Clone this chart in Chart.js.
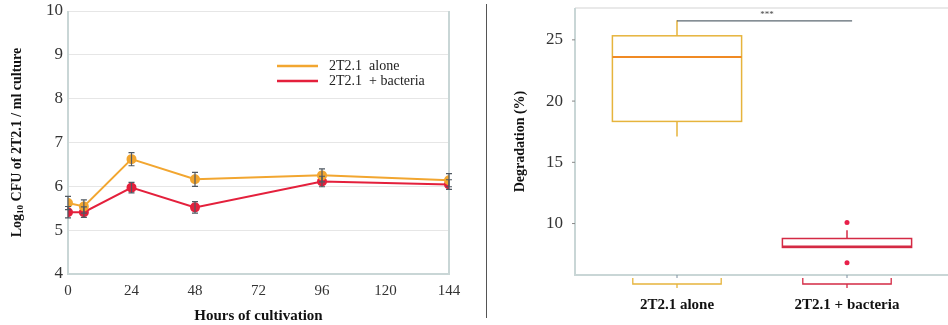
<!DOCTYPE html>
<html>
<head>
<meta charset="utf-8">
<script src="https://cdn.jsdelivr.net/npm/chart.js@4.4.1/dist/chart.umd.min.js"></script>
<style>
  body { margin: 0; background: #fff; width: 948px; height: 325px; overflow: hidden; position: relative; }
  canvas { position: absolute; top: 0; }
  #growth { left: 0; }
  #degr { left: 488px; }
  #divider { position: absolute; left: 486px; top: 4px; width: 1px; height: 314px; background: #555; }
</style>
</head>
<body>
<canvas id="growth" width="486" height="325"></canvas>
<div id="divider"></div>
<canvas id="degr" width="465" height="325"></canvas>
<script>
// ---------- data: growth curve ----------
const hours = [0, 6, 24, 48, 96, 144];
const aloneMean = [5.62, 5.54, 6.62, 6.16, 6.25, 6.14];
const aloneErr = [0.15, 0.15, 0.15, 0.16, 0.15, 0.15];
const bactMean = [5.41, 5.41, 5.97, 5.52, 6.11, 6.04];
const bactErr = [0.13, 0.12, 0.12, 0.13, 0.12, 0.11];
const hourTicks = [0, 24, 48, 72, 96, 120, 144];
const cfuTicks = [4, 5, 6, 7, 8, 9, 10];

// ---------- data: degradation box plot ----------
const groups = ['2T2.1 alone', '2T2.1 + bacteria'];
const boxLow = [17.1, 8.05];
const boxQ1 = [18.34, 8.05];
const boxMedian = [23.6, 8.12];
const boxQ3 = [25.33, 8.78];
const boxHigh = [26.6, 9.45];
const outliers = [[], [10.08, 6.79]];
const degrTicks = [10, 15, 20, 25];
const signifLevel = 26.55;

const orange = '#f2a630';
const red = '#e4203c';
const serif = "'Liberation Serif', 'DejaVu Serif', serif";

// no extra label padding, so the plot area is set by layout.padding only
function noPad(s) {
    s.paddingTop = 0; s.paddingBottom = 0; s.paddingLeft = 0; s.paddingRight = 0;
}

// ================= LEFT CHART =================

function toPoints(ys) {
    return hours.map((h, i) => ({ x: h, y: ys[i] }));
}

const errorBars = {
    id: 'errorBars',
    afterDatasetsDraw(chart) {
        const ctx = chart.ctx;
        const xs = chart.scales.x, ys = chart.scales.y;
        const sets = [[aloneMean, aloneErr], [bactMean, bactErr]];
        ctx.save();
        ctx.strokeStyle = '#4f5862';
        ctx.lineWidth = 1.2;
        sets.forEach(([m, e]) => {
            for (let i = 0; i < hours.length; i++) {
                const x = xs.getPixelForValue(hours[i]);
                const top = ys.getPixelForValue(m[i] + e[i]);
                const bot = ys.getPixelForValue(m[i] - e[i]);
                ctx.beginPath();
                ctx.moveTo(x, top); ctx.lineTo(x, bot);
                ctx.moveTo(x - 3, top); ctx.lineTo(x + 3, top);
                ctx.moveTo(x - 3, bot); ctx.lineTo(x + 3, bot);
                ctx.stroke();
            }
        });
        ctx.restore();
    }
};

const growthDeco = {
    id: 'growthDeco',
    beforeDatasetsDraw(chart) {
        const { ctx, chartArea: a } = chart;
        ctx.save();
        ctx.strokeStyle = '#c9d6d6';
        ctx.lineWidth = 2;
        ctx.beginPath();
        ctx.moveTo(a.left, a.top); ctx.lineTo(a.left, a.bottom);
        ctx.lineTo(a.right, a.bottom); ctx.lineTo(a.right, a.top);
        ctx.stroke();
        ctx.restore();
    },
    afterDraw(chart) {
        const { ctx, chartArea: a } = chart;
        ctx.save();
        // legend
        chart.data.datasets.forEach((ds, i) => {
            const y = 66 + i * 15;
            ctx.strokeStyle = ds.borderColor;
            ctx.lineWidth = 2.5;
            ctx.beginPath(); ctx.moveTo(277, y); ctx.lineTo(318, y); ctx.stroke();
            ctx.fillStyle = '#222';
            ctx.font = '14px ' + serif;
            ctx.textBaseline = 'middle';
            ctx.fillText(ds.label, 329, y);
        });
        // y title with subscript
        ctx.translate(17, (a.top + a.bottom) / 2);
        ctx.rotate(-Math.PI / 2);
        ctx.fillStyle = '#111';
        ctx.textBaseline = 'middle';
        const big = 'bold 14px ' + serif, small = 'bold 9px ' + serif;
        const parts = [['Log', big, 0], ['10', small, 4], [' CFU of 2T2.1 / ml culture', big, 0]];
        let w = 0;
        parts.forEach(p => { ctx.font = p[1]; w += ctx.measureText(p[0]).width; });
        let x = -w / 2;
        parts.forEach(p => {
            ctx.font = p[1];
            ctx.fillText(p[0], x, p[2]);
            x += ctx.measureText(p[0]).width;
        });
        ctx.restore();
    }
};

new Chart(document.getElementById('growth'), {
    type: 'line',
    data: {
        datasets: [
            {
                label: '2T2.1  alone',
                data: toPoints(aloneMean),
                borderColor: orange,
                backgroundColor: orange,
                borderWidth: 2,
                pointRadius: 4,
                tension: 0
            },
            {
                label: '2T2.1  + bacteria',
                data: toPoints(bactMean),
                borderColor: red,
                backgroundColor: red,
                borderWidth: 2,
                pointRadius: 4,
                tension: 0
            }
        ]
    },
    options: {
        responsive: false,
        animation: false,
        layout: { padding: { left: 0, right: 37, top: 11, bottom: 0 } },
        plugins: { legend: { display: false }, tooltip: { enabled: false } },
        scales: {
            x: {
                type: 'linear',
                min: 0,
                max: 144,
                afterBuildTicks: s => { s.ticks = hourTicks.map(v => ({ value: v })); },
                afterFit: s => { s.height = 51; noPad(s); },
                grid: { display: false, drawTicks: false },
                border: { display: false },
                ticks: { font: { family: serif, size: 15 }, color: '#333', padding: 8, maxRotation: 0 },
                title: {
                    display: true,
                    text: 'Hours of cultivation',
                    font: { family: serif, size: 15, weight: 'bold' },
                    color: '#111',
                    padding: { top: 6, bottom: 0 }
                }
            },
            y: {
                min: 4,
                max: 10,
                afterBuildTicks: s => { s.ticks = cfuTicks.map(v => ({ value: v })); },
                afterFit: s => { s.width = 68; noPad(s); },
                grid: { color: '#e6e6e6', drawTicks: false },
                border: { display: false },
                ticks: { font: { family: serif, size: 17 }, color: '#333', padding: 5 }
            }
        }
    },
    plugins: [growthDeco, errorBars]
});

// ================= RIGHT CHART =================

const boxColors = ['#e6b43c', '#d42a44'];
const medianColors = ['#f08a24', '#d42a44'];
const boxWidth = 0.76;
const bracketWidth = 0.52;

const boxPlot = {
    id: 'boxPlot',
    beforeDatasetsDraw(chart) {
        const { ctx, chartArea: a } = chart;
        const xs = chart.scales.x, ys = chart.scales.y;
        ctx.save();
        // frame
        ctx.strokeStyle = '#e2e2e2';
        ctx.lineWidth = 1.5;
        ctx.beginPath(); ctx.moveTo(a.left, a.top); ctx.lineTo(a.right, a.top); ctx.stroke();
        ctx.strokeStyle = '#c9d6d6';
        ctx.lineWidth = 2;
        ctx.beginPath(); ctx.moveTo(a.left, a.top); ctx.lineTo(a.left, a.bottom); ctx.lineTo(a.right, a.bottom); ctx.stroke();
        // y tick marks
        ctx.strokeStyle = '#888';
        ctx.lineWidth = 1;
        degrTicks.forEach(v => {
            const y = ys.getPixelForValue(v);
            ctx.beginPath(); ctx.moveTo(a.left - 3, y); ctx.lineTo(a.left, y); ctx.stroke();
        });
        groups.forEach((g, i) => {
            const xc = xs.getPixelForValue(i + 1);
            const x0 = xs.getPixelForValue(i + 1 - boxWidth / 2);
            const x1 = xs.getPixelForValue(i + 1 + boxWidth / 2);
            const yQ1 = ys.getPixelForValue(boxQ1[i]);
            const yQ3 = ys.getPixelForValue(boxQ3[i]);
            const yMed = ys.getPixelForValue(boxMedian[i]);
            const yLo = ys.getPixelForValue(boxLow[i]);
            const yHi = ys.getPixelForValue(boxHigh[i]);
            ctx.strokeStyle = boxColors[i];
            ctx.lineWidth = 1.5;
            ctx.beginPath();
            ctx.moveTo(xc, yQ3); ctx.lineTo(xc, yHi);
            ctx.moveTo(xc, yQ1); ctx.lineTo(xc, yLo);
            ctx.stroke();
            ctx.strokeRect(x0, yQ3, x1 - x0, yQ1 - yQ3);
            ctx.strokeStyle = medianColors[i];
            ctx.lineWidth = 2.2;
            ctx.beginPath(); ctx.moveTo(x0, yMed); ctx.lineTo(x1, yMed); ctx.stroke();
            // bracket under the axis
            const b0 = xs.getPixelForValue(i + 1 - bracketWidth / 2);
            const b1 = xs.getPixelForValue(i + 1 + bracketWidth / 2);
            const by = a.bottom + 9;
            ctx.strokeStyle = boxColors[i];
            ctx.lineWidth = 1.3;
            ctx.beginPath();
            ctx.moveTo(b0, a.bottom + 3); ctx.lineTo(b0, by); ctx.lineTo(b1, by); ctx.lineTo(b1, a.bottom + 3);
            ctx.moveTo(xc, by); ctx.lineTo(xc, by + 4);
            ctx.stroke();
            // axis tick
            ctx.strokeStyle = '#7d8fa0';
            ctx.lineWidth = 1;
            ctx.beginPath(); ctx.moveTo(xc, a.bottom); ctx.lineTo(xc, a.bottom + 3); ctx.stroke();
        });
        // significance bar
        const sy = ys.getPixelForValue(signifLevel);
        ctx.strokeStyle = '#5d6872';
        ctx.lineWidth = 1.3;
        ctx.beginPath();
        ctx.moveTo(xs.getPixelForValue(1), sy);
        ctx.lineTo(xs.getPixelForValue(2.03), sy);
        ctx.stroke();
        ctx.fillStyle = '#444';
        ctx.font = '9px ' + serif;
        ctx.textAlign = 'center';
        ctx.textBaseline = 'middle';
        ctx.fillText('***', xs.getPixelForValue(1.53), sy - 6);
        // y title
        ctx.translate(32, (a.top + a.bottom) / 2);
        ctx.rotate(-Math.PI / 2);
        ctx.fillStyle = '#111';
        ctx.font = 'bold 14px ' + serif;
        ctx.fillText('Degradation (%)', 0, 0);
        ctx.restore();
    }
};

const outlierPoints = [];
outliers.forEach((list, i) => list.forEach(v => outlierPoints.push({ x: i + 1, y: v })));

new Chart(document.getElementById('degr'), {
    type: 'scatter',
    data: {
        datasets: [{
            label: 'outliers',
            data: outlierPoints,
            backgroundColor: '#e8204a',
            borderWidth: 0,
            pointRadius: 2.5
        }]
    },
    options: {
        responsive: false,
        animation: false,
        layout: { padding: { left: 0, right: 0, top: 8, bottom: 0 } },
        plugins: { legend: { display: false }, tooltip: { enabled: false } },
        scales: {
            x: {
                type: 'linear',
                min: 0.4,
                max: 2.6,
                afterBuildTicks: s => { s.ticks = groups.map((g, i) => ({ value: i + 1 })); },
                afterFit: s => { s.height = 50; noPad(s); },
                grid: { display: false, drawTicks: false },
                border: { display: false },
                ticks: {
                    callback: v => groups[v - 1],
                    font: { family: serif, size: 15, weight: 'bold' },
                    color: '#111',
                    padding: 21,
                    maxRotation: 0
                }
            },
            y: {
                min: 5.8,
                max: 27.6,
                afterBuildTicks: s => { s.ticks = degrTicks.map(v => ({ value: v })); },
                afterFit: s => { s.width = 87; noPad(s); },
                grid: { display: false, drawTicks: false },
                border: { display: false },
                ticks: { font: { family: serif, size: 17 }, color: '#333', padding: 12 }
            }
        }
    },
    plugins: [boxPlot]
});
</script>
</body>
</html>
